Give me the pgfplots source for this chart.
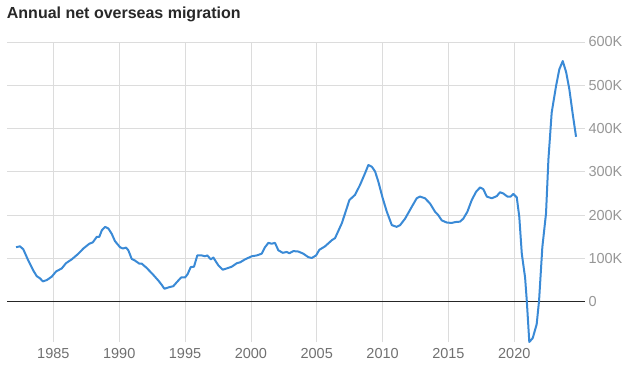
\documentclass[border=0pt]{standalone}
\usepackage{pgfplots}
\pgfplotsset{compat=1.18}
\usepackage{fontspec}
\setmainfont{Liberation Sans}
\definecolor{lineblue}{RGB}{58,138,214}
\definecolor{gridgrey}{RGB}{220,220,220}
\definecolor{xlab}{RGB}{112,112,112}
\definecolor{ylab}{RGB}{150,150,150}
\definecolor{titlecol}{RGB}{40,40,40}
\begin{document}
\begin{tikzpicture}
\useasboundingbox (-7bp,-30bp) rectangle (633bp,342bp);
\node[anchor=base west, font=\fontsize{16bp}{18bp}\selectfont\bfseries, text=titlecol, inner sep=0pt] at (-0.3bp,323.7bp) {Annual net overseas migration};
\begin{axis}[
  at={(0,0)}, anchor=south west,
  scale only axis,
  width=578bp, height=300bp,
  xmin=1981.48, xmax=2025.37,
  ymin=-93000, ymax=600000,
  axis line style={draw=none},
  major tick length=0pt,
  xtick={1985,1990,1995,2000,2005,2010,2015,2020},
  xticklabels={1985,1990,1995,2000,2005,2010,2015,2020},
  ytick={0,100000,200000,300000,400000,500000,600000},
  yticklabels={0,100K,200K,300K,400K,500K,600K},
  yticklabel pos=right,
  xmajorgrids, ymajorgrids,
  grid style={gridgrey, line width=0.8pt},
  xticklabel style={font=\fontsize{14.5bp}{16bp}\selectfont, text=xlab, yshift=-3bp},
  yticklabel style={font=\fontsize{14.5bp}{16bp}\selectfont, text=ylab, anchor=west, xshift=0bp},
  scaled y ticks=false,
  clip=false,
]
\addplot[black!85, line width=1pt, forget plot] coordinates {(1981.48,0) (2025.37,0)};
\addplot[lineblue, line width=2bp, line join=round] coordinates {
(1982.17,126000) (1982.47,128000) (1982.72,121000) (1983.10,95000) (1983.48,72000)
(1983.74,59000) (1983.99,54000) (1984.20,47000) (1984.50,50000) (1984.88,58000)
(1985.21,70000) (1985.64,77000) (1985.96,89000) (1986.40,98000) (1986.90,111000)
(1987.28,123000) (1987.73,134000) (1987.99,137000) (1988.30,150000) (1988.49,150000)
(1988.68,165000) (1988.93,173000) (1989.18,169000) (1989.43,157000) (1989.68,140000)
(1990.06,126000) (1990.27,123000) (1990.52,125000) (1990.69,119000) (1990.95,99000)
(1991.20,95000) (1991.53,88000) (1991.71,88000) (1992.09,78000) (1992.59,62000)
(1992.97,49000) (1993.23,39000) (1993.43,30000) (1993.73,33000) (1994.11,36000)
(1994.37,45000) (1994.70,56000) (1995.00,56000) (1995.20,64000) (1995.43,80000)
(1995.68,81000) (1995.93,107000) (1996.27,107000) (1996.52,105000) (1996.69,107000)
(1996.95,98000) (1997.15,102000) (1997.53,84000) (1997.86,74000) (1998.17,77000)
(1998.55,81000) (1998.93,89000) (1999.18,91000) (1999.56,98000) (2000.06,105000)
(2000.45,107000) (2000.82,111000) (2001.07,126000) (2001.33,136000) (2001.58,134000)
(2001.83,136000) (2002.08,119000) (2002.42,113000) (2002.72,115000) (2002.92,112000)
(2003.22,117000) (2003.60,116000) (2003.98,111000) (2004.36,103000) (2004.62,101000)
(2004.95,107000) (2005.20,120000) (2005.63,128000) (2006.14,142000) (2006.39,147000)
(2006.90,181000) (2007.15,204000) (2007.48,235000) (2007.91,247000) (2008.29,270000)
(2008.67,297000) (2008.92,316000) (2009.18,312000) (2009.43,301000) (2009.68,277000)
(2010.01,239000) (2010.32,208000) (2010.70,177000) (2011.07,173000) (2011.33,177000)
(2011.71,192000) (2012.21,219000) (2012.59,239000) (2012.84,243000) (2013.22,239000)
(2013.60,227000) (2013.98,208000) (2014.23,200000) (2014.49,188000) (2014.87,183000)
(2015.25,182000) (2015.50,184000) (2015.88,185000) (2016.13,192000) (2016.44,208000)
(2016.77,235000) (2017.10,254000) (2017.40,264000) (2017.65,260000) (2017.91,243000)
(2018.29,239000) (2018.67,244000) (2018.92,253000) (2019.17,250000) (2019.47,243000)
(2019.73,243000) (2019.93,249000) (2020.19,241000) (2020.38,196000) (2020.57,111000)
(2020.82,56000) (2020.95,2000) (2021.14,-93000) (2021.40,-84000) (2021.70,-52000)
(2021.88,2000) (2022.13,126000) (2022.41,204000) (2022.59,328000) (2022.84,437000)
(2023.17,498000) (2023.42,537000) (2023.68,556000) (2023.94,530000) (2024.18,491000)
(2024.44,433000) (2024.69,381000)
};
\end{axis}
\end{tikzpicture}
\end{document}
